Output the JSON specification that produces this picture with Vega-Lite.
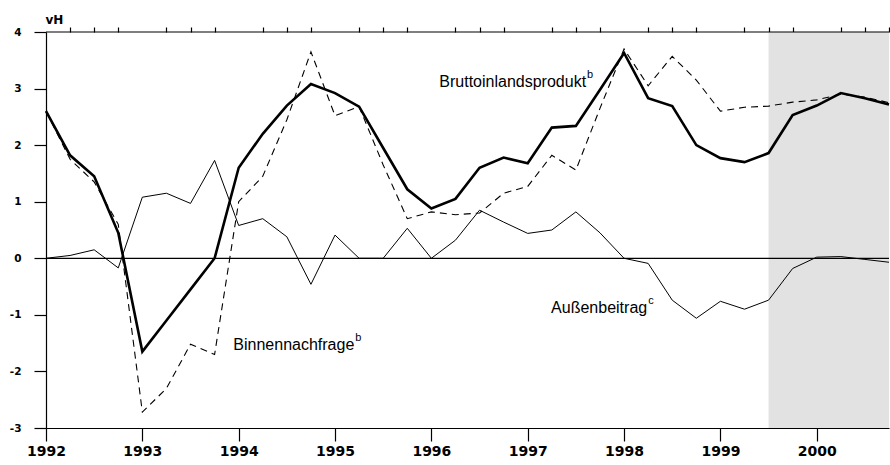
{
  "$schema": "https://vega.github.io/schema/vega-lite/v6.json",
  "width": 843,
  "height": 396,
  "autosize": {"type": "none"},
  "padding": {"left": 46, "top": 32, "right": 1, "bottom": 37},
  "background": "white",
  "config": {
    "view": {"stroke": null},
    "axis": {"domainColor": "#000", "tickColor": "#000", "labelColor": "#000", "titleColor": "#000", "grid": false, "domainWidth": 1.2, "tickWidth": 1.2}
  },
  "datasets": {
    "series": [
      {"t": 1992.00, "bip": 2.60, "binnen": 2.60, "aussen": 0.00},
      {"t": 1992.25, "bip": 1.82, "binnen": 1.75, "aussen": 0.05},
      {"t": 1992.50, "bip": 1.45, "binnen": 1.35, "aussen": 0.15},
      {"t": 1992.75, "bip": 0.45, "binnen": 0.60, "aussen": -0.17},
      {"t": 1993.00, "bip": -1.65, "binnen": -2.72, "aussen": 1.08},
      {"t": 1993.25, "bip": -1.10, "binnen": -2.30, "aussen": 1.15},
      {"t": 1993.50, "bip": -0.55, "binnen": -1.52, "aussen": 0.97},
      {"t": 1993.75, "bip": 0.00, "binnen": -1.70, "aussen": 1.73},
      {"t": 1994.00, "bip": 1.60, "binnen": 1.00, "aussen": 0.58},
      {"t": 1994.25, "bip": 2.20, "binnen": 1.45, "aussen": 0.70},
      {"t": 1994.50, "bip": 2.70, "binnen": 2.45, "aussen": 0.38},
      {"t": 1994.75, "bip": 3.08, "binnen": 3.65, "aussen": -0.46},
      {"t": 1995.00, "bip": 2.92, "binnen": 2.52, "aussen": 0.41},
      {"t": 1995.25, "bip": 2.68, "binnen": 2.68, "aussen": 0.00},
      {"t": 1995.50, "bip": 1.95, "binnen": 1.65, "aussen": 0.00},
      {"t": 1995.75, "bip": 1.22, "binnen": 0.70, "aussen": 0.53},
      {"t": 1996.00, "bip": 0.88, "binnen": 0.82, "aussen": 0.00},
      {"t": 1996.25, "bip": 1.05, "binnen": 0.77, "aussen": 0.32},
      {"t": 1996.50, "bip": 1.60, "binnen": 0.80, "aussen": 0.85},
      {"t": 1996.75, "bip": 1.78, "binnen": 1.15, "aussen": 0.64},
      {"t": 1997.00, "bip": 1.68, "binnen": 1.27, "aussen": 0.44},
      {"t": 1997.25, "bip": 2.31, "binnen": 1.82, "aussen": 0.50},
      {"t": 1997.50, "bip": 2.34, "binnen": 1.56, "aussen": 0.82},
      {"t": 1997.75, "bip": 2.98, "binnen": 2.65, "aussen": 0.45},
      {"t": 1998.00, "bip": 3.63, "binnen": 3.70, "aussen": 0.00},
      {"t": 1998.25, "bip": 2.83, "binnen": 3.05, "aussen": -0.09},
      {"t": 1998.50, "bip": 2.69, "binnen": 3.57, "aussen": -0.74},
      {"t": 1998.75, "bip": 2.00, "binnen": 3.15, "aussen": -1.06},
      {"t": 1999.00, "bip": 1.77, "binnen": 2.60, "aussen": -0.76},
      {"t": 1999.25, "bip": 1.70, "binnen": 2.67, "aussen": -0.90},
      {"t": 1999.50, "bip": 1.86, "binnen": 2.69, "aussen": -0.74},
      {"t": 1999.75, "bip": 2.53, "binnen": 2.76, "aussen": -0.18},
      {"t": 2000.00, "bip": 2.70, "binnen": 2.80, "aussen": 0.02},
      {"t": 2000.25, "bip": 2.92, "binnen": 2.90, "aussen": 0.03},
      {"t": 2000.50, "bip": 2.83, "binnen": 2.85, "aussen": -0.02},
      {"t": 2000.75, "bip": 2.72, "binnen": 2.75, "aussen": -0.07}
    ],
    "labels": [
      {"label": "Bruttoinlandsprodukt", "sup": "b", "x": 1997.606, "y": 3.03},
      {"label": "Binnennachfrage", "sup": "b", "x": 1995.20, "y": -1.63},
      {"label": "Außenbeitrag", "sup": "c", "x": 1998.24, "y": -0.97}
    ],
    "forecast": [{"start": 1999.5, "end": 2000.75}]
  },
  "resolve": {"axis": {"x": "independent"}},
  "layer": [
    {
      "data": {"name": "forecast"},
      "mark": {"type": "rect", "fill": "#e2e2e2", "stroke": null},
      "encoding": {
        "x": {"field": "start", "type": "quantitative", "scale": {"domain": [1992, 2000.75], "nice": false, "zero": false},
          "axis": {"values": [1992, 1993, 1994, 1995, 1996, 1997, 1998, 1999, 2000], "format": "d", "tickSize": 13, "labelPadding": 3, "labelFont": "DejaVu Sans", "labelFontWeight": "bold", "labelFontSize": 14, "labelFlush": false, "title": null}},
        "x2": {"field": "end"},
        "y": {"datum": -3, "type": "quantitative", "scale": {"domain": [-3, 4], "nice": false, "zero": false},
          "axis": {"values": [-3, -2, -1, 0, 1, 2, 3, 4], "tickSize": 12, "labelPadding": 13, "labelFont": "DejaVu Sans", "labelFontWeight": "bold", "labelFontSize": 10.5, "labelExpr": "'' + datum.value",
            "title": "vH", "titleAngle": 0, "titleAlign": "left", "titleBaseline": "alphabetic", "titleX": -1, "titleY": -9, "titleFont": "DejaVu Sans", "titleFontWeight": "bold", "titleFontSize": 12}},
        "y2": {"datum": 4}
      }
    },
    {
      "data": {"name": "series"},
      "mark": {"type": "line", "color": "#000", "strokeWidth": 1},
      "encoding": {
        "x": {"field": "t", "type": "quantitative",
          "axis": {"values": [1992.25, 1992.5, 1992.75, 1993.25, 1993.5, 1993.75, 1994.25, 1994.5, 1994.75, 1995.25, 1995.5, 1995.75, 1996.25, 1996.5, 1996.75, 1997.25, 1997.5, 1997.75, 1998.25, 1998.5, 1998.75, 1999.25, 1999.5, 1999.75, 2000.25, 2000.5, 2000.75], "tickSize": 5, "labels": false, "domain": false, "title": null}},
        "y": {"field": "aussen", "type": "quantitative"}
      }
    },
    {
      "data": {"name": "series"},
      "mark": {"type": "line", "color": "#000", "strokeWidth": 1.1, "strokeDash": [7, 5]},
      "encoding": {
        "x": {"field": "t", "type": "quantitative", "axis": null},
        "y": {"field": "binnen", "type": "quantitative"}
      }
    },
    {
      "data": {"name": "series"},
      "mark": {"type": "line", "color": "#000", "strokeWidth": 2.6},
      "encoding": {
        "x": {"field": "t", "type": "quantitative", "axis": null},
        "y": {"field": "bip", "type": "quantitative"}
      }
    },
    {
      "data": {"values": [{"v": 0}, {"v": 4}]},
      "mark": {"type": "rule", "color": "#000", "strokeWidth": 1.2},
      "encoding": {"y": {"field": "v", "type": "quantitative"}}
    },
    {
      "data": {"name": "labels"},
      "mark": {"type": "text", "align": "right", "baseline": "alphabetic", "font": "Liberation Sans", "fontSize": 16, "color": "#000"},
      "encoding": {
        "x": {"field": "x", "type": "quantitative", "axis": null},
        "y": {"field": "y", "type": "quantitative"},
        "text": {"field": "label"}
      }
    },
    {
      "data": {"name": "labels"},
      "mark": {"type": "text", "align": "left", "baseline": "alphabetic", "dx": 1, "dy": -9, "font": "Liberation Sans", "fontSize": 11, "color": "#000"},
      "encoding": {
        "x": {"field": "x", "type": "quantitative", "axis": null},
        "y": {"field": "y", "type": "quantitative"},
        "text": {"field": "sup"}
      }
    }
  ]
}
